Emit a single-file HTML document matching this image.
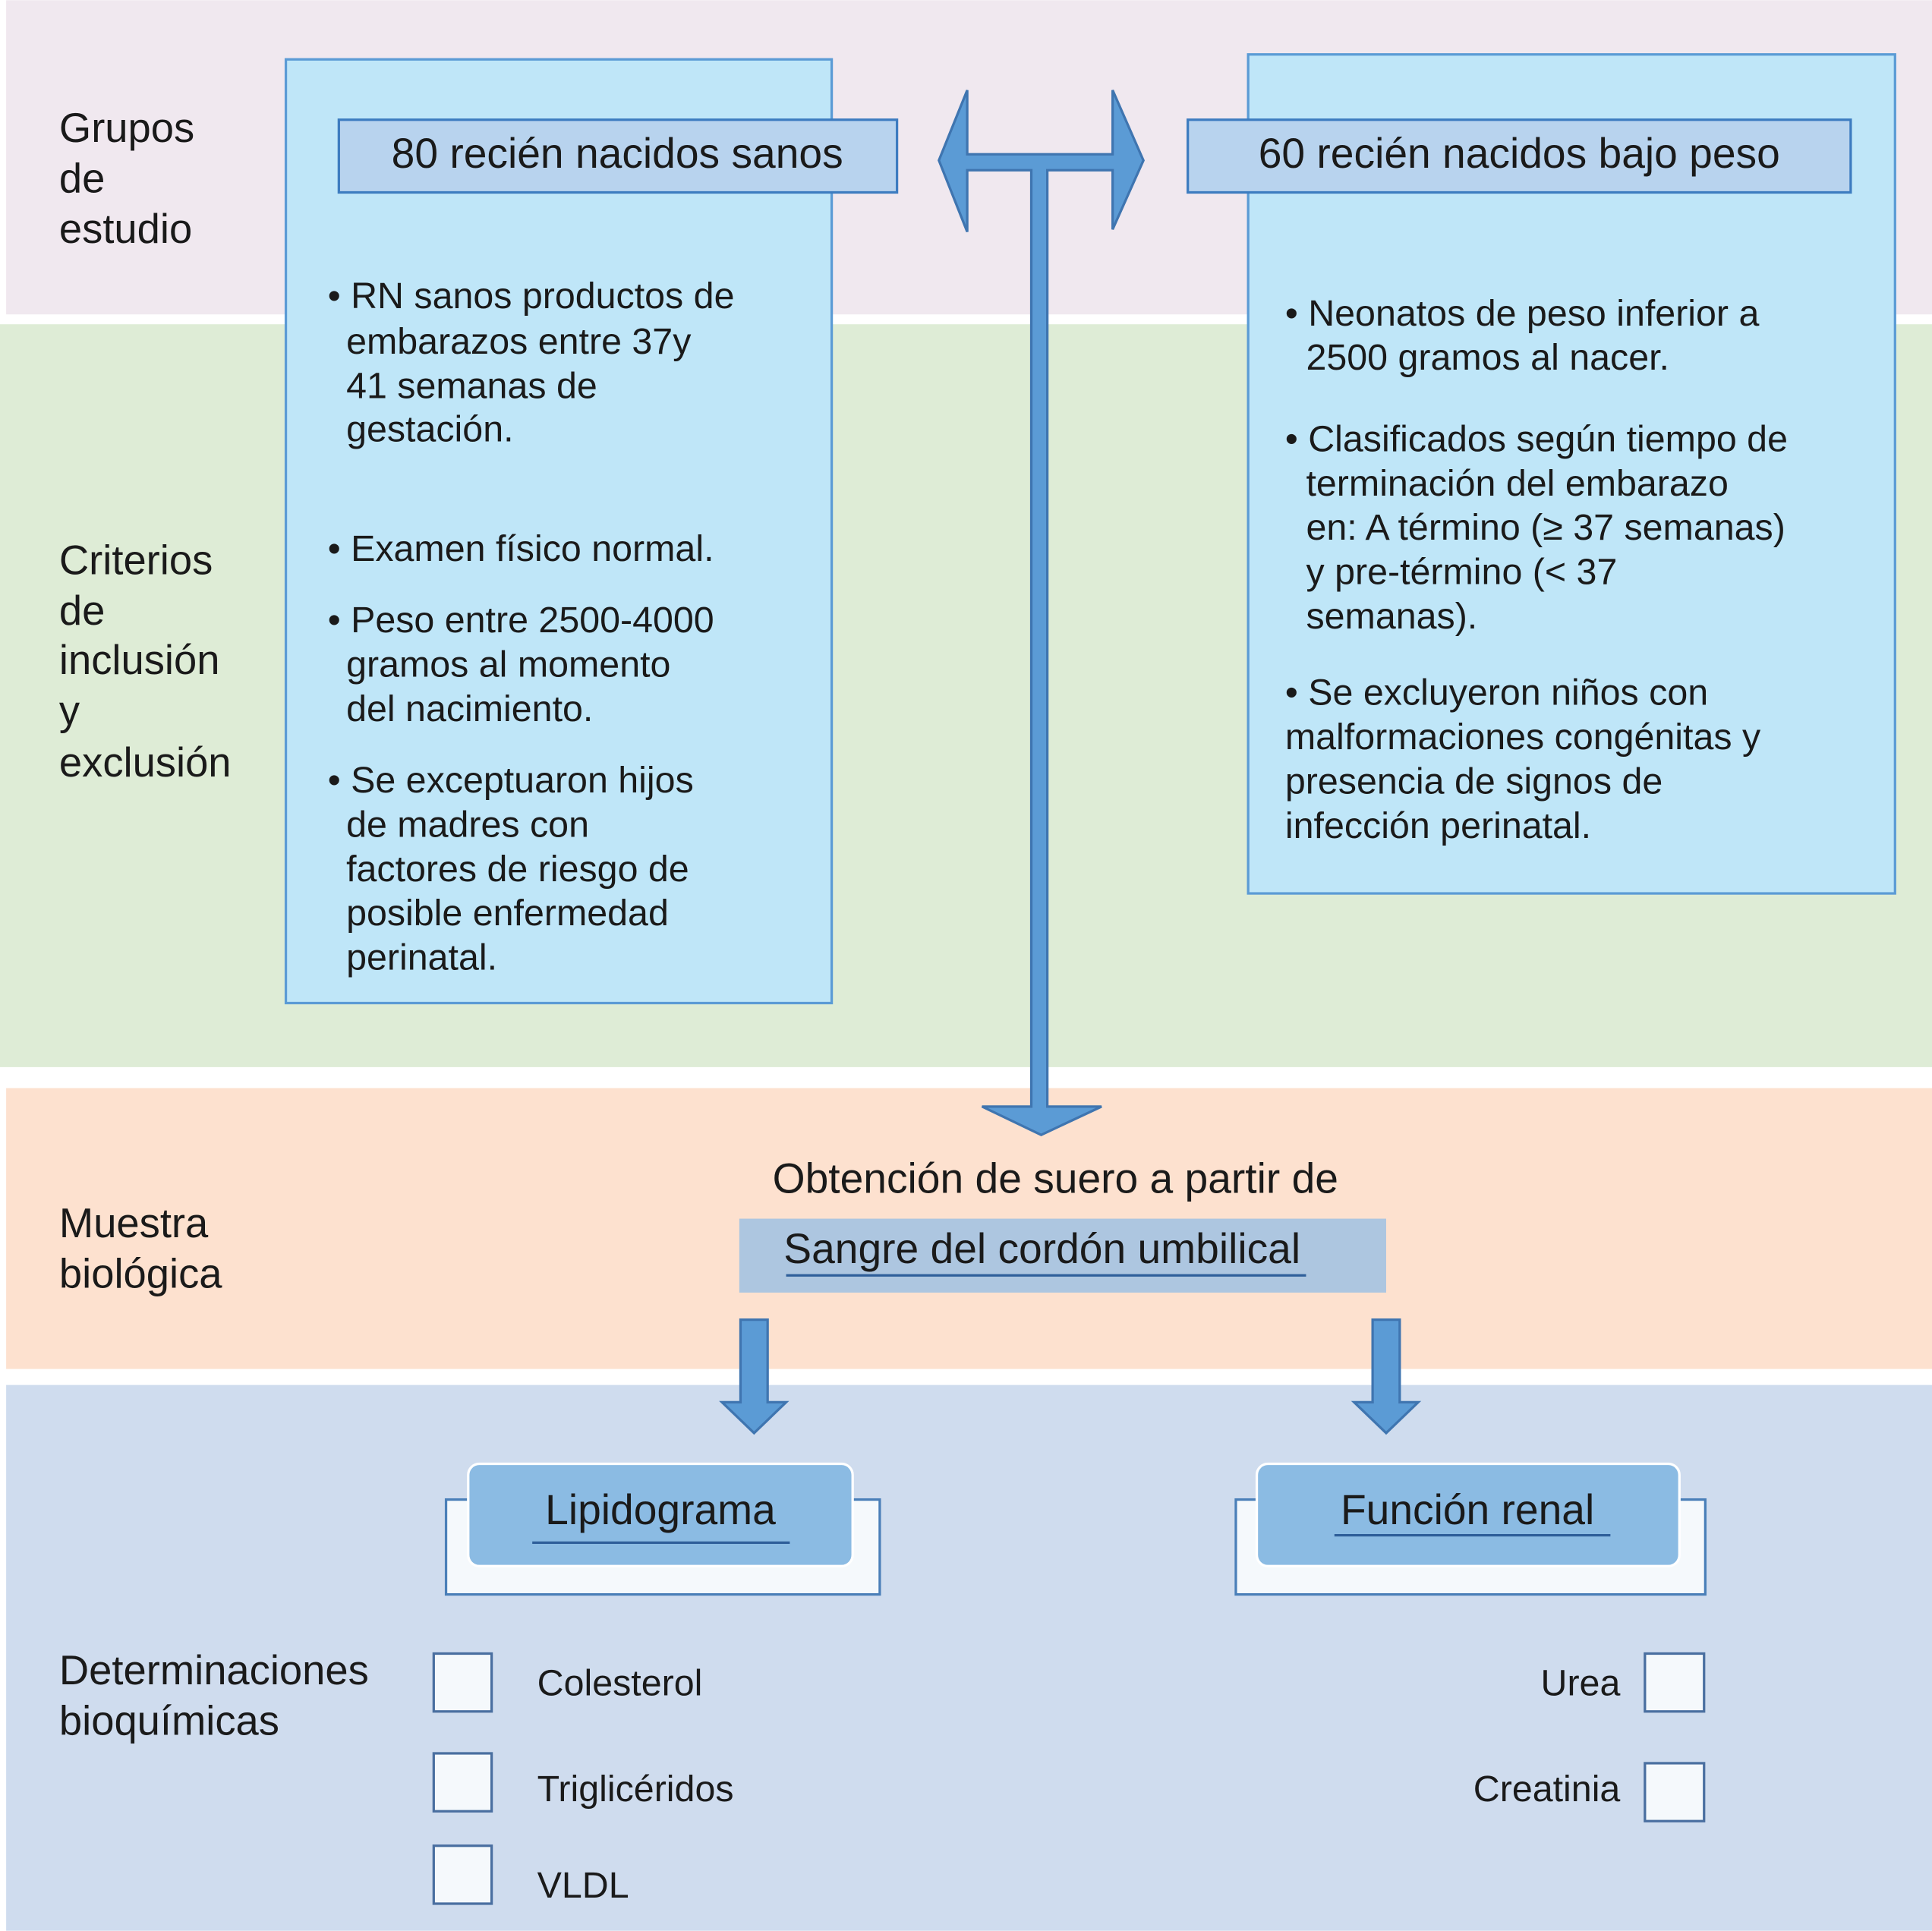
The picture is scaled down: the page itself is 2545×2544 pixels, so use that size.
<!DOCTYPE html>
<html><head><meta charset="utf-8"><style>
html,body{margin:0;padding:0;background:#fff;}
svg{display:block;}
text{font-family:"Liberation Sans",Arial,sans-serif;fill:#1a1a1a;}
</style></head><body>
<svg width="2545" height="2544" viewBox="0 0 1568 1567" xmlns="http://www.w3.org/2000/svg">
<rect x="0" y="0" width="1568" height="1567" fill="#fff"/>
<rect x="5" y="0" width="1563" height="255" fill="#f0e8ef"/>
<rect x="0" y="263" width="1568" height="603" fill="#deecd6"/>
<rect x="5" y="883" width="1563" height="228" fill="#fde1cf"/>
<rect x="5" y="1124" width="1563" height="443" fill="#cfdcee"/>

<!-- left labels -->
<g font-size="33.5">
<text x="48" y="115">Grupos</text><text x="48" y="156">de</text><text x="48" y="197">estudio</text>
<text x="48" y="466">Criterios</text><text x="48" y="507">de</text><text x="48" y="547">inclusión</text><text x="48" y="588">y</text><text x="48" y="630">exclusión</text>
<text x="48" y="1004">Muestra</text><text x="48" y="1045">biológica</text>
<text x="48" y="1367">Determinaciones</text><text x="48" y="1408">bioquímicas</text>
</g>

<!-- boxes -->
<rect x="232" y="48" width="443" height="766" fill="#bfe6f8" stroke="#5b9bd5" stroke-width="2"/>
<rect x="1013" y="44" width="525" height="681" fill="#bfe6f8" stroke="#5b9bd5" stroke-width="2"/>
<rect x="275" y="97" width="453" height="59" fill="#b8d3ee" stroke="#3d7cc0" stroke-width="2"/>
<rect x="964" y="97" width="538" height="59" fill="#b8d3ee" stroke="#3d7cc0" stroke-width="2"/>
<text x="501" y="136" font-size="34" text-anchor="middle">80 recién nacidos sanos</text>
<text x="1233" y="136" font-size="34" text-anchor="middle">60 recién nacidos bajo peso</text>

<g font-size="29.8">
<text x="266" y="250">• RN sanos productos de</text>
<text x="281" y="287">embarazos entre 37y</text>
<text x="281" y="323">41 semanas de</text>
<text x="281" y="358">gestación.</text>
<text x="266" y="455">• Examen físico normal.</text>
<text x="266" y="513">• Peso entre 2500-4000</text>
<text x="281" y="549">gramos al momento</text>
<text x="281" y="585">del nacimiento.</text>
<text x="266" y="643">• Se exceptuaron hijos</text>
<text x="281" y="679">de madres con</text>
<text x="281" y="715">factores de riesgo de</text>
<text x="281" y="751">posible enfermedad</text>
<text x="281" y="787">perinatal.</text>

<text x="1043" y="264">• Neonatos de peso inferior a</text>
<text x="1060" y="300">2500 gramos al nacer.</text>
<text x="1043" y="366">• Clasificados según tiempo de</text>
<text x="1060" y="402">terminación del embarazo</text>
<text x="1060" y="438">en: A término (≥ 37 semanas)</text>
<text x="1060" y="474">y pre-término (&lt; 37</text>
<text x="1060" y="510">semanas).</text>
<text x="1043" y="572">• Se excluyeron niños con</text>
<text x="1043" y="608">malformaciones congénitas y</text>
<text x="1043" y="644">presencia de signos de</text>
<text x="1043" y="680">infección perinatal.</text>
</g>

<!-- big arrow -->
<path d="M785,73 L785,125 L903,125 L903,73 L928,130 L903,186 L903,138 L850,138 L850,898 L894,898 L845,921 L797,898 L837,898 L837,138 L785,138 L785,188 L762,130 Z" fill="#5b9bd5" stroke="#3f75b0" stroke-width="2" stroke-linejoin="miter"/>

<!-- sample -->
<text x="627" y="968" font-size="34">Obtención de suero a partir de</text>
<rect x="600" y="989" width="525" height="60" fill="#adc6e0"/>
<text x="636" y="1025" font-size="34">Sangre del cordón umbilical</text>
<line x1="638" y1="1035" x2="1060" y2="1035" stroke="#2f5f9a" stroke-width="2"/>

<!-- small arrows -->
<path d="M601,1071 L623,1071 L623,1138 L638,1138 L612,1163 L586,1138 L601,1138 Z" fill="#5b9bd5" stroke="#3f75b0" stroke-width="2"/>
<path d="M1114,1071 L1136,1071 L1136,1138 L1151,1138 L1125,1163 L1099,1138 L1114,1138 Z" fill="#5b9bd5" stroke="#3f75b0" stroke-width="2"/>

<!-- Lipidograma -->
<rect x="362" y="1217" width="352" height="77" fill="#f5f9fc" stroke="#4a7fb8" stroke-width="2"/>
<rect x="380" y="1188" width="312" height="83" rx="9" fill="#8bbbe3" stroke="#fff" stroke-width="2"/>
<text x="536" y="1237" font-size="34" text-anchor="middle">Lipidograma</text>
<line x1="432" y1="1252" x2="641" y2="1252" stroke="#2f5f9a" stroke-width="2"/>

<rect x="1003" y="1217" width="381" height="77" fill="#f5f9fc" stroke="#4a7fb8" stroke-width="2"/>
<rect x="1020" y="1188" width="343" height="83" rx="9" fill="#8bbbe3" stroke="#fff" stroke-width="2"/>
<text x="1191" y="1237" font-size="34" text-anchor="middle">Función renal</text>
<line x1="1083" y1="1246" x2="1307" y2="1246" stroke="#2f5f9a" stroke-width="2"/>

<!-- checkboxes -->
<g fill="#f5f9fc" stroke="#4a6fa0" stroke-width="2">
<rect x="352" y="1342" width="47" height="47"/>
<rect x="352" y="1423" width="47" height="47"/>
<rect x="352" y="1498" width="47" height="47"/>
<rect x="1335" y="1342" width="48" height="47"/>
<rect x="1335" y="1431" width="48" height="47"/>
</g>
<g font-size="29.8">
<text x="436" y="1376">Colesterol</text>
<text x="436" y="1462">Triglicéridos</text>
<text x="436" y="1540">VLDL</text>
<text x="1315" y="1376" text-anchor="end">Urea</text>
<text x="1315" y="1462" text-anchor="end">Creatinia</text>
</g>
</svg>
</body></html>
